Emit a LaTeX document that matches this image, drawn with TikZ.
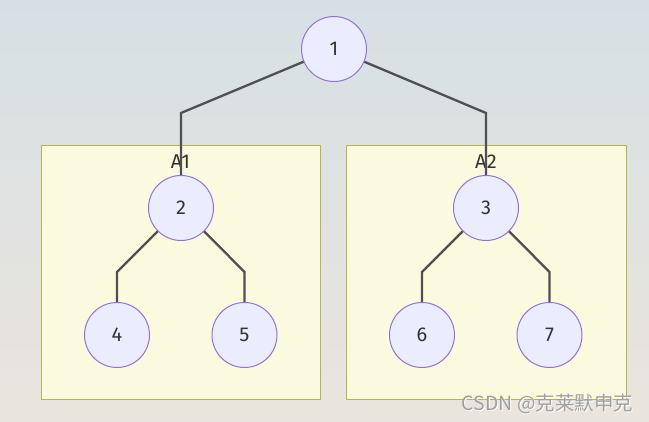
\documentclass[tikz,border=0pt]{standalone}
\usepackage{fontspec}
\setmainfont{Fira Sans}
\newfontfamily\cjk{Noto Sans CJK SC}
\usepackage{xcolor}
\definecolor{bgtop}{RGB}{214,224,228}
\definecolor{bgbot}{RGB}{234,228,222}
\definecolor{nodefill}{HTML}{ECECFF}
\definecolor{nodeline}{HTML}{9370DB}
\definecolor{boxfill}{HTML}{FAFADE}
\definecolor{boxline}{HTML}{B4B450}
\definecolor{linkc}{HTML}{505050}
\definecolor{txt}{HTML}{333333}
\begin{document}
\begin{tikzpicture}[x=1pt,y=-1pt,
vert/.style={circle,draw=nodeline,fill=nodefill,line width=1pt,minimum size=65pt,inner sep=0pt,text=txt,font=\fontsize{20}{24}\selectfont},
group/.style={draw=boxline,fill=boxfill,line width=0.9pt},
grouplabel/.style={text=txt,font=\fontsize{20}{24}\selectfont},
link/.style={draw=linkc,line width=2.3pt}]
\useasboundingbox(0,0)rectangle(649,422);
\shade[top color=bgtop,bottom color=bgbot](0,0)rectangle(649,422);
\draw[group](41,145)rectangle(320,399);
\draw[group](346,145)rectangle(626,399);
\node[grouplabel](A1)at(180.5,162){A1};
\node[grouplabel](A2)at(486,162){A2};
\node[vert](n1)at(334,49){1};
\node[vert](n2)at(181,208){2};
\node[vert](n3)at(486,208){3};
\node[vert](n4)at(117,335){4};
\node[vert](n5)at(244.5,335){5};
\node[vert](n6)at(422,335){6};
\node[vert](n7)at(549.5,335){7};
\coordinate(b2)at(181,113);
\coordinate(b3)at(486,113);
\coordinate(b4)at(117,272);
\coordinate(b5)at(244.5,272);
\coordinate(b6)at(422,272);
\coordinate(b7)at(549.5,272);
\draw[link](n1)--(b2)--(n2);
\draw[link](n1)--(b3)--(n3);
\draw[link](n2)--(b4)--(n4);
\draw[link](n2)--(b5)--(n5);
\draw[link](n3)--(b6)--(n6);
\draw[link](n3)--(b7)--(n7);
\node[text=white,font=\cjk\fontsize{19.5}{23}\selectfont]at(548.5,405){CSDN @克莱默申克};
\node[text=gray!75,font=\cjk\fontsize{19.5}{23}\selectfont](mark)at(547.5,404){CSDN @克莱默申克};
\end{tikzpicture}
\end{document}
